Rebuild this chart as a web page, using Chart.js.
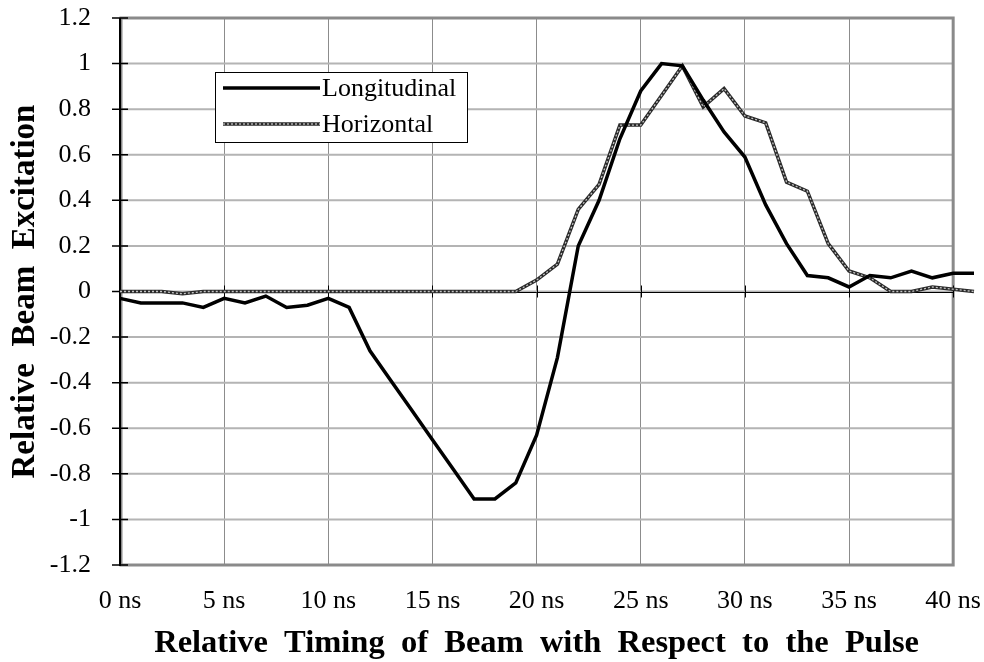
<!DOCTYPE html>
<html>
<head>
<meta charset="utf-8">
<script src="https://cdn.jsdelivr.net/npm/chart.js@4/dist/chart.umd.min.js"></script>
<style>
  html, body { margin: 0; padding: 0; background: #fff; }
  #chart { display: block; }
</style>
</head>
<body>
<canvas id="chart" width="984" height="662"></canvas>
<script>
const times = [0, 1, 2, 3, 4, 5, 6, 7, 8, 9, 10, 11, 12, 13, 14, 15, 16, 17, 18, 19, 20,
  21, 22, 23, 24, 25, 26, 27, 28, 29, 30, 31, 32, 33, 34, 35, 36, 37, 38, 39, 40, 41];

const longitudinal = [-0.03, -0.05, -0.05, -0.05, -0.07, -0.03, -0.05, -0.02, -0.07, -0.06, -0.03,
  -0.07, -0.26, -0.39, -0.52, -0.65, -0.78, -0.91, -0.91, -0.84, -0.63,
  -0.29, 0.20, 0.40, 0.67, 0.88, 1.00, 0.99, 0.84, 0.70, 0.59,
  0.38, 0.21, 0.07, 0.06, 0.02, 0.07, 0.06, 0.09, 0.06, 0.08, 0.08];

const horizontal = [0, 0, 0, -0.01, 0, 0, 0, 0, 0, 0, 0,
  0, 0, 0, 0, 0, 0, 0, 0, 0, 0.05,
  0.12, 0.36, 0.47, 0.73, 0.73, 0.86, 0.99, 0.81, 0.89, 0.77,
  0.74, 0.48, 0.44, 0.21, 0.09, 0.06, 0.00, 0.00, 0.02, 0.01, 0.00];

const xTicks = [0, 5, 10, 15, 20, 25, 30, 35, 40];
const yTicks = [-1.2, -1, -0.8, -0.6, -0.4, -0.2, 0, 0.2, 0.4, 0.6, 0.8, 1, 1.2];
const seriesNames = ["Longitudinal", "Horizontal"];
const xTitle = "Relative  Timing  of  Beam  with  Respect  to  the  Pulse";
const yTitle = "Relative  Beam  Excitation";

const serif = "'Liberation Serif', 'Times New Roman', serif";
const dashBase = "#2a2a2a";
const dashTop = "#c4c4c4";

function toPoints(values) {
  return times.map((t, i) => ({ x: t, y: values[i] }));
}

// plot frame ends at the last tick (40 ns); the data runs one step past it
const framePlugin = {
  id: "frame",
  beforeDatasetsDraw(chart) {
    const { ctx, chartArea: a, scales } = chart;
    const right = scales.x.getPixelForValue(xTicks[xTicks.length - 1]);
    const y0 = scales.y.getPixelForValue(0);
    ctx.save();

    // horizontal gridlines
    ctx.strokeStyle = "#b4b4b4";
    ctx.lineWidth = 2;
    ctx.beginPath();
    yTicks.forEach(v => {
      const py = scales.y.getPixelForValue(v);
      ctx.moveTo(a.left, py);
      ctx.lineTo(right, py);
    });
    ctx.stroke();

    ctx.strokeStyle = "#8a8a8a";
    ctx.lineWidth = 3;
    ctx.strokeRect(a.left + 1, a.top, right - a.left - 1, a.bottom - a.top);

    ctx.strokeStyle = "#000";
    ctx.lineWidth = 1;
    ctx.beginPath();
    ctx.moveTo(a.left, Math.round(y0) + 0.5);
    ctx.lineTo(right, Math.round(y0) + 0.5);
    xTicks.forEach(v => {
      const px = Math.round(scales.x.getPixelForValue(v)) + 0.5;
      ctx.moveTo(px, y0 - 6);
      ctx.lineTo(px, y0 + 6);
    });
    ctx.stroke();

    ctx.lineWidth = 1.5;
    ctx.beginPath();
    yTicks.forEach(v => {
      const py = scales.y.getPixelForValue(v);
      ctx.moveTo(a.left - 8, py);
      ctx.lineTo(a.left + 8, py);
    });
    ctx.stroke();

    ctx.lineWidth = 2;
    ctx.beginPath();
    ctx.moveTo(a.left, a.top);
    ctx.lineTo(a.left, a.bottom + 1);
    ctx.stroke();
    ctx.restore();
  },
  afterDraw(chart) {
    // x title centred under the framed part of the plot
    const { ctx, chartArea: a, scales } = chart;
    const right = scales.x.getPixelForValue(xTicks[xTicks.length - 1]);
    ctx.save();
    ctx.fillStyle = "#000";
    ctx.font = "bold 32.5px " + serif;
    ctx.textAlign = "center";
    ctx.textBaseline = "middle";
    ctx.fillText(xTitle, (a.left + right) / 2, 643.5);
    ctx.restore();
  }
};

// boxed legend inside the plot, upper left
const legendPlugin = {
  id: "boxLegend",
  afterDraw(chart) {
    const { ctx } = chart;
    const box = { x: 215, y: 72, w: 252, h: 70 };
    ctx.save();
    ctx.fillStyle = "#fff";
    ctx.fillRect(box.x, box.y, box.w, box.h);
    ctx.strokeStyle = "#000";
    ctx.lineWidth = 1;
    ctx.strokeRect(box.x + 0.5, box.y + 0.5, box.w, box.h);

    const rows = [88, 124];
    ctx.strokeStyle = "#000";
    ctx.lineWidth = 3.5;
    ctx.beginPath();
    ctx.moveTo(223, rows[0]);
    ctx.lineTo(320, rows[0]);
    ctx.stroke();

    ctx.strokeStyle = dashBase;
    ctx.beginPath();
    ctx.moveTo(223, rows[1]);
    ctx.lineTo(320, rows[1]);
    ctx.stroke();
    ctx.strokeStyle = dashTop;
    ctx.lineWidth = 1.3;
    ctx.setLineDash([2, 2]);
    ctx.beginPath();
    ctx.moveTo(223, rows[1]);
    ctx.lineTo(320, rows[1]);
    ctx.stroke();
    ctx.setLineDash([]);

    ctx.fillStyle = "#000";
    ctx.font = "26px " + serif;
    ctx.textBaseline = "middle";
    ctx.textAlign = "left";
    seriesNames.forEach((name, i) => ctx.fillText(name, 322, rows[i] + 1));
    ctx.restore();
  }
};

const ctx = document.getElementById("chart").getContext("2d");
new Chart(ctx, {
  type: "line",
  data: {
    datasets: [
      {
        label: seriesNames[0],
        data: toPoints(longitudinal),
        borderColor: "#000",
        borderWidth: 3.5,
        pointRadius: 0,
        tension: 0,
        clip: false,
        order: 0
      },
      {
        label: seriesNames[1] + " overlay",
        data: toPoints(horizontal),
        borderColor: dashTop,
        borderWidth: 1.3,
        borderDash: [2, 2],
        pointRadius: 0,
        tension: 0,
        clip: false,
        order: 1
      },
      {
        label: seriesNames[1],
        data: toPoints(horizontal),
        borderColor: dashBase,
        borderWidth: 3.5,
        pointRadius: 0,
        tension: 0,
        clip: false,
        order: 2
      }
    ]
  },
  options: {
    responsive: false,
    animation: false,
    layout: { padding: { top: 18, right: 10, left: 0, bottom: 0 } },
    plugins: {
      legend: { display: false },
      tooltip: { enabled: false }
    },
    scales: {
      x: {
        type: "linear",
        min: 0,
        max: 41,
        afterFit: scale => {
          scale.height = 97;
          scale.paddingLeft = 0;
          scale.paddingRight = 0;
        },
        afterBuildTicks: scale => { scale.ticks = xTicks.map(v => ({ value: v })); },
        ticks: {
          color: "#000",
          padding: 21,
          maxRotation: 0,
          autoSkip: false,
          font: { family: serif, size: 26 },
          callback: v => v + " ns"
        },
        grid: { color: "#8c8c8c", lineWidth: 1, drawTicks: false },
        border: { display: false }
      },
      y: {
        min: -1.2,
        max: 1.2,
        afterFit: scale => {
          scale.width = 120;
          scale.paddingTop = 0;
          scale.paddingBottom = 0;
        },
        afterBuildTicks: scale => { scale.ticks = yTicks.map(v => ({ value: v })); },
        ticks: {
          color: "#000",
          padding: 21,
          font: { family: serif, size: 26 },
          callback: v => String(Math.round(v * 10) / 10)
        },
        grid: { display: false },
        border: { display: false },
        title: {
          display: true,
          text: yTitle,
          color: "#000",
          padding: { top: 6, bottom: 0 },
          font: { family: serif, size: 33, weight: "bold", lineHeight: 1.15 }
        }
      }
    }
  },
  plugins: [framePlugin, legendPlugin]
});
</script>
</body>
</html>
